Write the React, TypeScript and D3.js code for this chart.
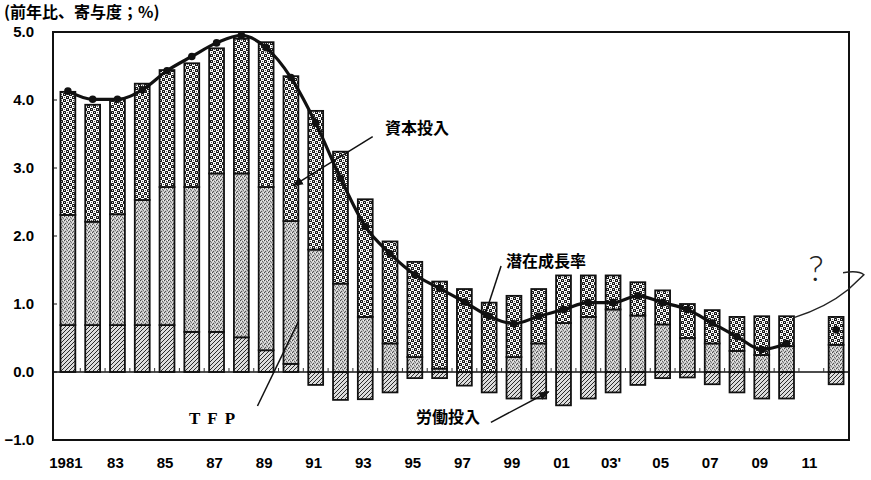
import * as d3 from 'd3';
import React, { useEffect, useRef } from 'react';

// years that have a bar (2011 is left empty in the original)
const barYears = [1981, 1982, 1983, 1984, 1985, 1986, 1987, 1988, 1989, 1990, 1991, 1992, 1993, 1994, 1995, 1996, 1997, 1998, 1999, 2000, 2001, 2002, 2003, 2004, 2005, 2006, 2007, 2008, 2009, 2010, 2012];
const allYears = [1981, 1982, 1983, 1984, 1985, 1986, 1987, 1988, 1989, 1990, 1991, 1992, 1993, 1994, 1995, 1996, 1997, 1998, 1999, 2000, 2001, 2002, 2003, 2004, 2005, 2006, 2007, 2008, 2009, 2010, 2011, 2012];

const labor = [0.69, 0.69, 0.69, 0.69, 0.69, 0.59, 0.59, 0.51, 0.32, 0.12, -0.19, -0.41, -0.4, -0.3, -0.09, -0.09, -0.2, -0.3, -0.39, -0.39, -0.49, -0.39, -0.3, -0.19, -0.09, -0.08, -0.18, -0.3, -0.39, -0.39, -0.18];
const tfp = [1.62, 1.52, 1.63, 1.84, 2.03, 2.13, 2.33, 2.41, 2.4, 2.1, 1.8, 1.3, 0.81, 0.42, 0.22, 0.05, 0.0, 0.0, 0.22, 0.42, 0.72, 0.81, 0.92, 0.83, 0.7, 0.5, 0.42, 0.31, 0.25, 0.38, 0.4];
const capital = [1.81, 1.72, 1.69, 1.71, 1.72, 1.82, 1.84, 1.98, 2.13, 2.13, 2.04, 1.94, 1.73, 1.5, 1.4, 1.28, 1.22, 1.02, 0.9, 0.8, 0.7, 0.61, 0.5, 0.49, 0.5, 0.5, 0.49, 0.5, 0.57, 0.44, 0.41];

const lineYears = [1981, 1982, 1983, 1984, 1985, 1986, 1987, 1988, 1989, 1990, 1991, 1992, 1993, 1994, 1995, 1996, 1997, 1998, 1999, 2000, 2001, 2002, 2003, 2004, 2005, 2006, 2007, 2008, 2009, 2010];
const potential = [4.13, 4.01, 4.01, 4.15, 4.43, 4.64, 4.84, 4.95, 4.77, 4.33, 3.66, 2.85, 2.14, 1.74, 1.43, 1.23, 1.03, 0.82, 0.71, 0.82, 0.92, 1.02, 1.02, 1.12, 1.02, 0.92, 0.72, 0.52, 0.33, 0.42];
const extraYear = 2012;
const extraPotential = 0.62;

const yTicks = [5, 4, 3, 2, 1, 0, -1];
const xTickYears = [1981, 1983, 1985, 1987, 1989, 1991, 1993, 1995, 1997, 1999, 2001, 2003, 2005, 2007, 2009, 2011];
const xTickLabels = ['1981', '83', '85', '87', '89', '91', '93', '95', '97', '99', '01', '03\'', '05', '07', '09', '11'];

const W = 871;
const H = 480;
const numFont = '"Liberation Sans", Arial, sans-serif';
const jpFont = '"Noto Sans CJK JP", "Noto Sans", sans-serif';

const App = () => {
	const svgRef = useRef(null);

	useEffect(() => {
		const svg = d3.select(svgRef.current);
		svg.selectAll('*').remove();

		const plot = { left: 53, right: 849, top: 32, bottom: 440 };

		const x = d3.scaleBand()
			.domain(allYears.map(String))
			.range([55.5, 848.5])
			.paddingInner(0.4)
			.paddingOuter(0.2);
		const bw = x.bandwidth();
		const xc = (yr: number) => (x(String(yr)) as number) + bw / 2;
		// continuous year -> px for annotations
		const xl = d3.scaleLinear().domain([1981, 2012]).range([xc(1981), xc(2012)]);
		const y = d3.scaleLinear().domain([-1, 5]).range([plot.bottom, plot.top]);

		const defs = svg.append('defs');

		// capital: black/white checker with dots
		const cap = defs.append('pattern').attr('id', 'pCap')
			.attr('patternUnits', 'userSpaceOnUse').attr('width', 6).attr('height', 6);
		cap.append('rect').attr('width', 6).attr('height', 6).attr('fill', '#fff');
		[[0, 0], [3, 3]].forEach(([a, b]) => {
			cap.append('rect').attr('x', a).attr('y', b).attr('width', 3).attr('height', 3)
				.attr('rx', 0.6).attr('fill', '#111');
			cap.append('circle').attr('cx', a + 1.5).attr('cy', b + 1.5).attr('r', 0.6).attr('fill', '#fff');
		});
		[[3, 0], [0, 3]].forEach(([a, b]) => {
			cap.append('circle').attr('cx', a + 1.5).attr('cy', b + 1.5).attr('r', 0.55).attr('fill', '#333');
		});

		// TFP: grey stipple
		const tf = defs.append('pattern').attr('id', 'pTfp')
			.attr('patternUnits', 'userSpaceOnUse').attr('width', 4).attr('height', 4);
		tf.append('rect').attr('width', 4).attr('height', 4).attr('fill', '#c2c2c2');
		[[0, 0, '#444'], [2, 1, '#666'], [1, 3, '#555'], [3, 2, '#7a7a7a'], [1, 1, '#eee'], [3, 0, '#f2f2f2'], [0, 2, '#e6e6e6']].forEach(([a, b, c]) => {
			tf.append('rect').attr('x', a).attr('y', b).attr('width', 1).attr('height', 1).attr('fill', c as string);
		});

		// labour: diagonal hatch
		const lb = defs.append('pattern').attr('id', 'pLab')
			.attr('patternUnits', 'userSpaceOnUse').attr('width', 4).attr('height', 4);
		lb.append('rect').attr('width', 4).attr('height', 4).attr('fill', '#dcdcdc');
		lb.append('path').attr('d', 'M0,4 L4,0 M-1,1 L1,-1 M3,5 L5,3')
			.attr('stroke', '#2a2a2a').attr('stroke-width', 1);

		defs.append('marker').attr('id', 'arrow')
			.attr('viewBox', '0 0 10 10').attr('refX', 9).attr('refY', 5)
			.attr('markerWidth', 7).attr('markerHeight', 7).attr('orient', 'auto')
			.append('path').attr('d', 'M0,1 L10,5 L0,9 z').attr('fill', '#111');

		// frame
		svg.append('rect')
			.attr('x', plot.left).attr('y', plot.top)
			.attr('width', plot.right - plot.left).attr('height', plot.bottom - plot.top)
			.attr('fill', 'none').attr('stroke', '#111').attr('stroke-width', 2);

		// y axis labels and small ticks
		svg.append('g').selectAll('text').data(yTicks).join('text')
			.attr('x', 34).attr('y', d => y(d) + 5)
			.attr('text-anchor', 'end')
			.style('font-family', numFont).style('font-weight', 'bold').style('font-size', '15px')
			.text(d => d3.format('.1f')(d));
		svg.append('g').selectAll('line').data(yTicks).join('line')
			.attr('x1', plot.left).attr('x2', plot.left + 4)
			.attr('y1', d => y(d)).attr('y2', d => y(d))
			.attr('stroke', '#111').attr('stroke-width', 1);

		// x labels
		svg.append('g').selectAll('text').data(xTickYears).join('text')
			.attr('x', (d) => xc(d) - 2).attr('y', 468)
			.attr('text-anchor', 'middle')
			.style('font-family', numFont).style('font-weight', 'bold').style('font-size', '15px')
			.text((d, i) => xTickLabels[i]);

		// stacked bars
		const segs = barYears.flatMap((yr, i) => {
			const base = labor[i] >= 0 ? labor[i] : 0;
			return [
				{ yr, y0: Math.min(0, labor[i]), y1: Math.max(0, labor[i]), fill: 'url(#pLab)' },
				{ yr, y0: base, y1: base + tfp[i], fill: 'url(#pTfp)' },
				{ yr, y0: base + tfp[i], y1: base + tfp[i] + capital[i], fill: 'url(#pCap)' },
			].filter(s => s.y1 - s.y0 > 0.001);
		});
		svg.append('g').selectAll('rect').data(segs).join('rect')
			.attr('x', d => x(String(d.yr)) as number)
			.attr('y', d => y(d.y1))
			.attr('width', bw)
			.attr('height', d => y(d.y0) - y(d.y1))
			.attr('fill', d => d.fill)
			.attr('stroke', '#111').attr('stroke-width', 1.8);

		// zero line and year ticks
		svg.append('line')
			.attr('x1', plot.left).attr('x2', plot.right)
			.attr('y1', y(0)).attr('y2', y(0))
			.attr('stroke', '#111').attr('stroke-width', 1.6);
		svg.append('g').selectAll('line').data(allYears.slice(0, -1)).join('line')
			.attr('x1', d => xc(d) + x.step() / 2).attr('x2', d => xc(d) + x.step() / 2)
			.attr('y1', y(0)).attr('y2', y(0) - 4)
			.attr('stroke', '#333').attr('stroke-width', 1);

		// potential growth line
		const line = d3.line<number>()
			.x((d, i) => xc(lineYears[i]))
			.y(d => y(d))
			.curve(d3.curveMonotoneX);
		svg.append('path').datum(potential)
			.attr('d', line)
			.attr('fill', 'none').attr('stroke', '#111').attr('stroke-width', 3.2);
		svg.append('g').selectAll('circle').data(potential).join('circle')
			.attr('cx', (d, i) => xc(lineYears[i])).attr('cy', d => y(d))
			.attr('r', 3.8).attr('fill', '#111');
		svg.append('circle')
			.attr('cx', xc(extraYear)).attr('cy', y(extraPotential))
			.attr('r', 3.8).attr('fill', '#111');

		// annotations
		const arrows = [
			{ x1: 1993.3, y1: 3.46, x2: 1990.1, y2: 2.74, head: true },
			{ x1: 1988.65, y1: -0.5, x2: 1990.3, y2: 0.74, head: false },
			{ x1: 1998.48, y1: 1.56, x2: 1997.8, y2: 0.8, head: false },
			{ x1: 1998.07, y1: -0.74, x2: 2000.4, y2: -0.29, head: true },
		];
		svg.append('g').selectAll('line').data(arrows).join('line')
			.attr('x1', d => xl(d.x1)).attr('y1', d => y(d.y1))
			.attr('x2', d => xl(d.x2)).attr('y2', d => y(d.y2))
			.attr('stroke', '#111').attr('stroke-width', 1.5)
			.attr('marker-end', d => (d.head ? 'url(#arrow)' : null));

		const labels = [
			{ t: '資本投入', x: 385, y: 134 },
			{ t: '潜在成長率', x: 506, y: 267 },
			{ t: '労働投入', x: 416, y: 423 },
		];
		svg.append('g').selectAll('text').data(labels).join('text')
			.attr('x', d => d.x).attr('y', d => d.y)
			.style('font-family', jpFont).style('font-weight', 'bold').style('font-size', '16px')
			.text(d => d.t);

		svg.append('text')
			.attr('x', 189).attr('y', 424)
			.style('font-family', '"Liberation Serif", "DejaVu Serif", serif')
			.style('font-weight', 'bold')
			.style('font-size', '17px').style('letter-spacing', '7px')
			.text('TFP');

		svg.append('text')
			.attr('x', 4).attr('y', 18)
			.style('font-family', jpFont).style('font-weight', 'bold').style('font-size', '16px')
			.text('(前年比、寄与度；%)');

		// hand-written remark on the right
		const hand = d3.path();
		hand.moveTo(xc(2010) + bw / 2, y(0.8));
		hand.quadraticCurveTo(xl(2011.6), y(0.95), xl(2012.48), y(1.21));
		hand.lineTo(xl(2013.12), y(1.43));
		hand.quadraticCurveTo(xl(2012.9), y(1.5), xl(2012.28), y(1.46));
		svg.append('path').attr('d', hand.toString())
			.attr('fill', 'none').attr('stroke', '#222').attr('stroke-width', 1.5);
		svg.append('text')
			.attr('x', 816).attr('y', 281)
			.attr('text-anchor', 'middle')
			.style('font-family', 'Lato, "DejaVu Sans", sans-serif').style('font-weight', '300')
			.style('font-size', '36px').attr('fill', '#222')
			.text('?');

		return () => {
			d3.select(svgRef.current).selectAll('*').remove();
		};
	}, []);

	return (
		<svg
			ref={svgRef}
			width={W}
			height={H}
			style={{ position: 'absolute', left: 0, top: 0, background: '#fff' }}
		/>
	);
};

export default App;
